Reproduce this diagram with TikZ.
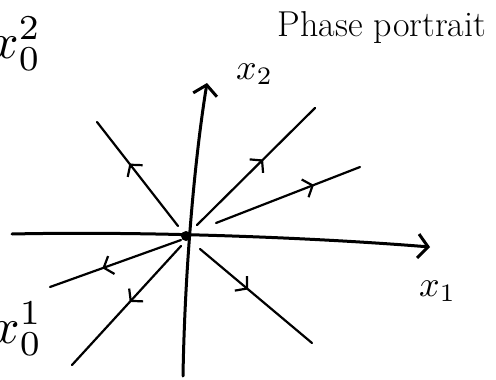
\documentclass[tikz,border=0pt]{standalone}
\usepackage{graphicx}
\usepackage{tikz}
\usetikzlibrary{arrows.meta,decorations.markings}

\tikzset{
  axis/.style={line width=3pt, line cap=round, -{Straight Barb[length=10pt,width=24pt]}},
  traj/.style={line width=2.2pt, line cap=round, postaction=decorate,
    decoration={markings, mark=at position #1 with {\arrow{Straight Barb[length=8pt,width=19pt]}}}},
  lbl/.style={anchor=base west, inner sep=0pt},
  title/.style={font=\fontsize{36}{38}\selectfont}
}
% enlarged math labels
\newcommand{\biglab}[2]{\scalebox{#1}{$#2$}}

\begin{document}
\begin{tikzpicture}[x=1pt, y=-1pt]

\useasboundingbox (0,0) rectangle (496,380);

% Equilibrium
\coordinate (O) at (186,236);

% Axes
\coordinate (xl) at (12,234);
\coordinate (xr) at (430,247);
\coordinate (yb) at (183,376);
\coordinate (yt) at (207,83);
\draw[axis] (xl) .. controls (150,231) and (320,238) .. (xr);
\draw[axis] (yb) .. controls (185,260) and (196,150) .. (yt);
\node[lbl] (lx1) at (419,296) {\biglab{3.6}{x_1}};
\node[lbl] (lx2) at (236,79) {\biglab{3.6}{x_2}};

% Trajectories leaving the node
\foreach \name/\sx/\sy/\ex/\ey/\pos in {
    ul/178/226/97/122/0.6,
    ur/197/225/315/108/0.56,
    r/216/223/360/167/0.68,
    ll/181/240/50/287/0.6,
    lls/181/246/72/365/0.47,
    lr/200/249/312/343/0.43} {
  \coordinate (s\name) at (\sx,\sy);
  \coordinate (e\name) at (\ex,\ey);
  \draw[traj=\pos] (s\name) -- (e\name);
}

\fill (O) circle (5);

% Initial conditions
\node[lbl] (x02) at (-10,58) {\biglab{5}{x_0^2}};
\node[lbl] (x01) at (-9,343) {\biglab{5}{x_0^1}};

% Title
\node[title, anchor=base, inner sep=0pt] (ttl) at (382,36) {Phase portrait};

\end{tikzpicture}
\end{document}
